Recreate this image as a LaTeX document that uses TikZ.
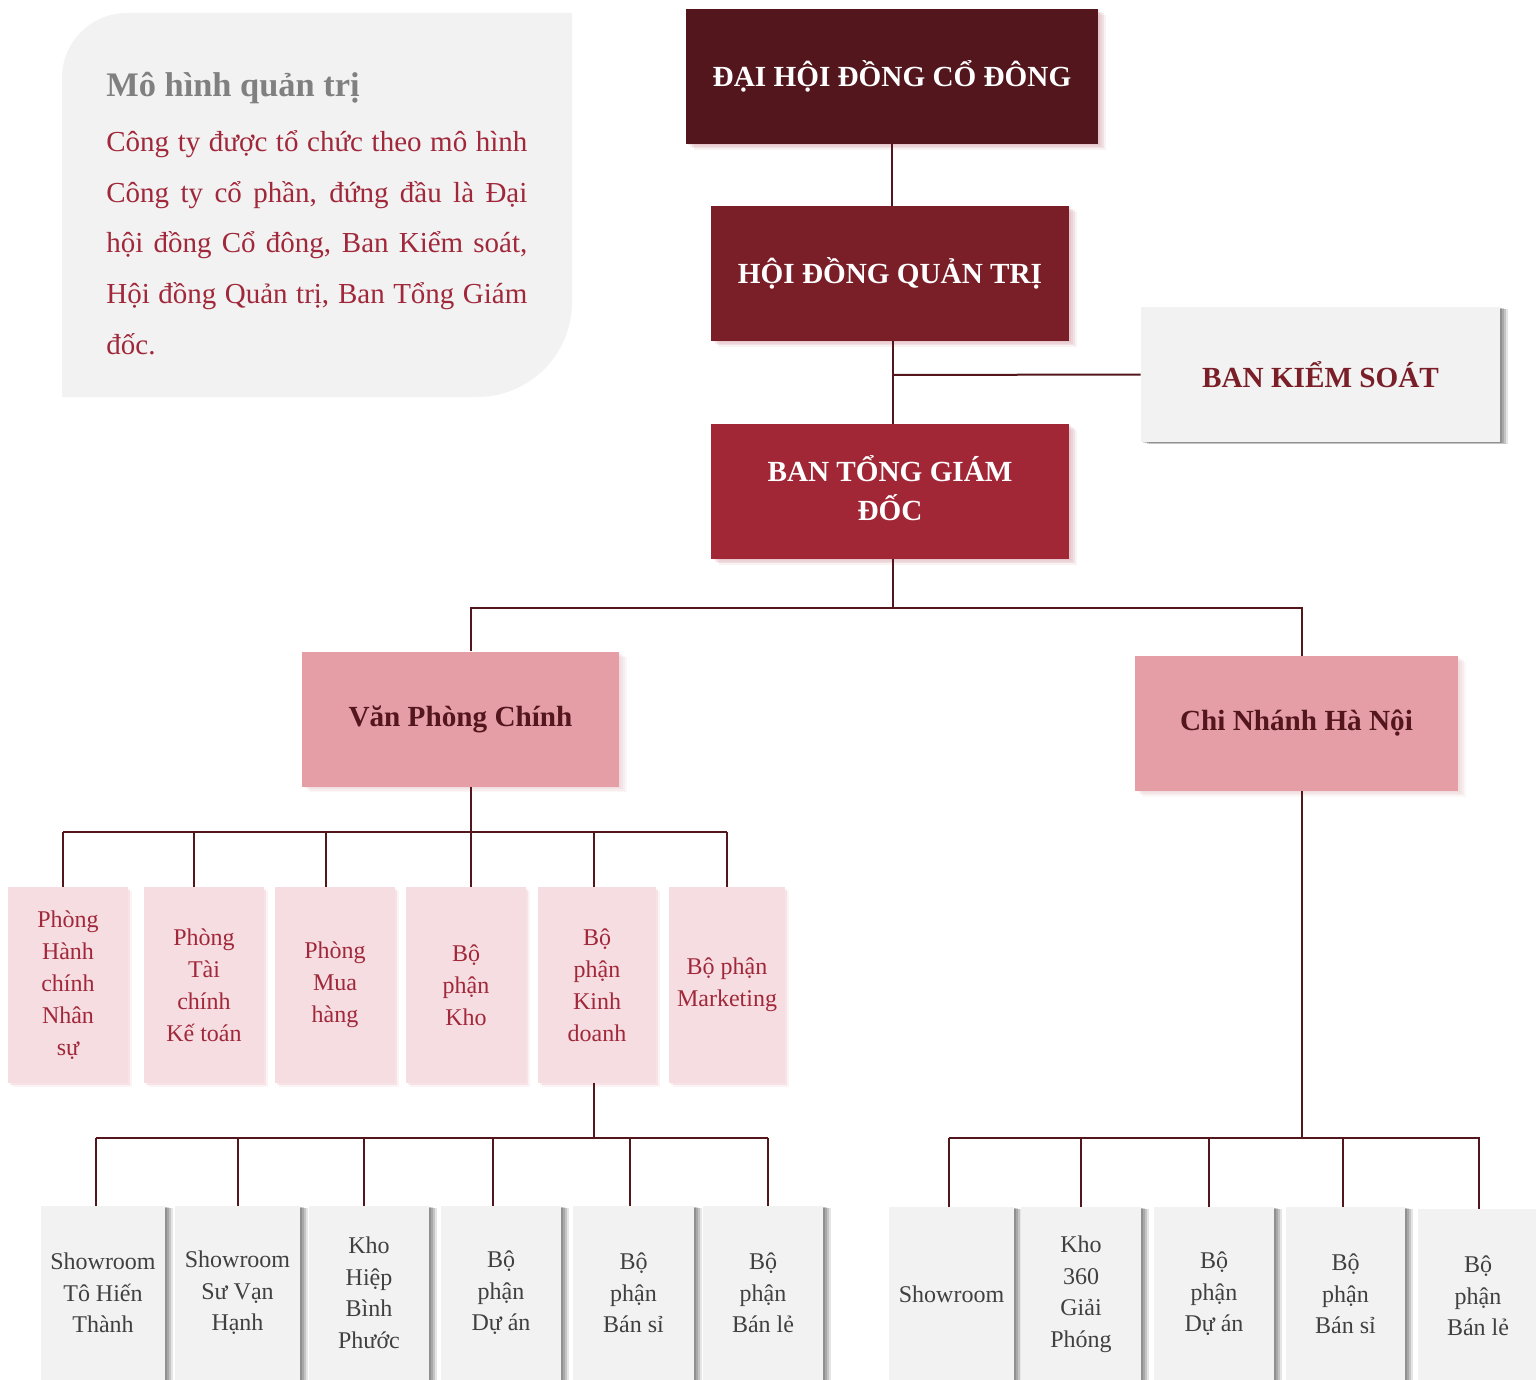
\documentclass[tikz,border=0pt]{standalone}
\usepackage{fontspec}
\setmainfont{Liberation Serif}
\usetikzlibrary{shadows}
\definecolor{cA}{HTML}{52161C}
\definecolor{cB}{HTML}{7A1E28}
\definecolor{cC}{HTML}{A12636}
\definecolor{pinkmid}{HTML}{E59DA6}
\definecolor{pinklt}{HTML}{F6DDE1}
\definecolor{grayf}{HTML}{F2F2F2}
\definecolor{txtred}{HTML}{A0283A}
\definecolor{txtgray}{HTML}{404040}
\definecolor{titlegray}{HTML}{808080}
\definecolor{shpink}{HTML}{C9808B}
\tikzset{
  softshadow/.style={
    drop shadow={shadow xshift=1pt, shadow yshift=-0.7pt, fill=#1, opacity=0.14},
    drop shadow={shadow xshift=2pt, shadow yshift=-1.4pt, fill=#1, opacity=0.14},
    drop shadow={shadow xshift=3pt, shadow yshift=-2.1pt, fill=#1, opacity=0.14},
    drop shadow={shadow xshift=4pt, shadow yshift=-2.8pt, fill=#1, opacity=0.10}},
  sidegray/.style={
    drop shadow={shadow xshift=1pt, shadow yshift=-0.3pt, fill=black, opacity=0.14},
    drop shadow={shadow xshift=2pt, shadow yshift=-0.6pt, fill=black, opacity=0.14},
    drop shadow={shadow xshift=3pt, shadow yshift=-0.9pt, fill=black, opacity=0.14},
    drop shadow={shadow xshift=4pt, shadow yshift=-1.2pt, fill=black, opacity=0.10}},
  basebox/.style={rectangle, inner sep=0pt, align=center},
  headfont/.style={font=\bfseries\fontsize{14.6}{19.5}\selectfont},
  topbox/.style={basebox, headfont, minimum width=#1, minimum height=67.5pt, text=white, softshadow=shpink},
  graybox/.style={basebox, headfont, fill=grayf, minimum width=#1, minimum height=67.5pt, text=cB, sidegray},
  midbox/.style={basebox, headfont, fill=pinkmid, minimum width=#1, minimum height=67.5pt, text=cA, softshadow=shpink!60},
  rowonebox/.style={basebox, fill=pinklt, minimum width=#1, minimum height=98pt, text=txtred,
    font=\fontsize{12}{16}\selectfont,
    drop shadow={shadow xshift=1pt, shadow yshift=-1pt, fill=pinkmid, opacity=0.18},
    drop shadow={shadow xshift=2pt, shadow yshift=-2pt, fill=pinkmid, opacity=0.12}},
  rowtwobox/.style={basebox, fill=grayf, minimum width=#1, minimum height=87pt, text=txtgray,
    font=\fontsize{12}{15.75}\selectfont, sidegray},
  conn/.style={draw=cA, line width=1pt},
  bodytxt/.style={inner sep=0pt, anchor=base west, text=txtred, font=\fontsize{14.5}{25}\selectfont},
}
\begin{document}
\begin{tikzpicture}[x=0.5pt,y=-0.5pt]
\useasboundingbox (0,0) rectangle (1536,1380);
\clip (0,0) rectangle (1536,1380);
\fill[white] (0,0) rectangle (1536,1380);

% info panel
\fill[grayf] (62,397) -- (62,78) .. controls (62,42) and (91,13) .. (127,13) -- (572,13)
  -- (572,302) .. controls (572,354.5) and (529.5,397) .. (477,397) -- cycle;
\node[inner sep=0pt, anchor=base west, text=titlegray, font=\bfseries\fontsize{17.2}{20}\selectfont] (title) at (106,97) {Mô hình quản trị};
\node[bodytxt] (l1) at (106,152) {\makebox[210.5pt][s]{Công ty được tổ chức theo mô hình}};
\node[bodytxt] (l2) at (106,202.5) {\makebox[210.5pt][s]{Công ty cổ phần, đứng đầu là Đại}};
\node[bodytxt] (l3) at (106,253) {\makebox[210.5pt][s]{hội đồng Cổ đông, Ban Kiểm soát,}};
\node[bodytxt] (l4) at (106,303.5) {\makebox[210.5pt][s]{Hội đồng Quản trị, Ban Tổng Giám}};
\node[bodytxt] (l5) at (106,354) {đốc.};

% top hierarchy
\node[topbox=206pt, fill=cA] (dhd) at (892,76.5) {ĐẠI HỘI ĐỒNG CỔ ĐÔNG};
\node[topbox=179pt, fill=cB] (hdqt) at (890,273.5) {HỘI ĐỒNG QUẢN TRỊ};
\node[topbox=179pt, fill=cC] (btgd) at (890,491.5) {BAN TỔNG GIÁM\\ĐỐC\rule[-4pt]{0pt}{1pt}};
\node[graybox=179.5pt] (bks) at (1320.5,374.5) {BAN KIỂM SOÁT};
\node[midbox=158.5pt] (vpc) at (460.5,719) {Văn Phòng Chính};
\node[midbox=161.5pt] (cnhn) at (1296.5,723.5) {Chi Nhánh Hà Nội};

% row 1
\node[rowonebox=60pt] (r1a) at (68,985) {Phòng\\Hành\\chính\\Nhân\\sự};
\node[rowonebox=60pt] (r1b) at (204,985) {Phòng\\Tài\\chính\\Kế toán};
\node[rowonebox=60pt] (r1c) at (335,985) {Phòng\\Mua\\hàng};
\node[rowonebox=60pt] (r1d) at (466,985) {Bộ\\phận\\Kho};
\node[rowonebox=59pt] (r1e) at (597,985) {Bộ\\phận\\Kinh\\doanh};
\node[rowonebox=58pt] (r1f) at (727,985) {Bộ phận\\Marketing};

% row 2 left
\node[rowtwobox=62pt] (r2a) at (103,1293) {Showroom\\Tô Hiến\\Thành};
\node[rowtwobox=62.5pt] (r2b) at (237.5,1293) {Showroom\\Sư Vạn\\Hạnh};
\node[rowtwobox=60pt] (r2c) at (369,1293) {Kho\\Hiệp\\Bình\\Phước};
\node[rowtwobox=60pt] (r2d) at (501,1293) {Bộ\\phận\\Dự án};
\node[rowtwobox=60.5pt] (r2e) at (633.5,1293) {Bộ\\phận\\Bán sỉ};
\node[rowtwobox=60pt] (r2f) at (763,1293) {Bộ\\phận\\Bán lẻ};

% row 2 right
\node[rowtwobox=62.5pt] (r3a) at (951.5,1294) {Showroom};
\node[rowtwobox=60pt] (r3b) at (1081,1294) {Kho\\360\\Giải\\Phóng};
\node[rowtwobox=60pt] (r3c) at (1214,1294) {Bộ\\phận\\Dự án};
\node[rowtwobox=59.5pt] (r3d) at (1345.5,1294) {Bộ\\phận\\Bán sỉ};
\node[rowtwobox=60pt] (r3e) at (1478,1296) {Bộ\\phận\\Bán lẻ};

% connectors
\draw[conn] (dhd.south) -- (dhd.south |- hdqt.north);
\coordinate (vh) at (893,375);
\draw[conn] (vh |- hdqt.south) -- (vh |- btgd.north);
\draw[conn] (vh) -- (bks.west);

\coordinate (v1) at (471,608);
\coordinate (v2) at (1302,608);
\draw[conn] (vh |- btgd.south) -- (vh |- v1);
\draw[conn] (v1 |- vpc.north) -- (v1) -- (v2) -- (v2 |- cnhn.north);

\coordinate (b1) at (471,832);
\draw[conn] (b1 |- vpc.south) -- (b1);
\draw[conn] (63,832) -- (727,832);
\foreach \x/\n in {63/r1a,194/r1b,326/r1c,471/r1d,594/r1e,727/r1f}
  \draw[conn] (\x,832) -- (\x,832 |- \n.north);

\coordinate (b2) at (594,1138);
\draw[conn] (b2 |- r1e.south) -- (b2);
\draw[conn] (96,1138) -- (768,1138);
\foreach \x/\n in {96/r2a,238/r2b,364/r2c,493/r2d,630/r2e,768/r2f}
  \draw[conn] (\x,1138) -- (\x,1138 |- \n.north);

\coordinate (b3) at (1302,1138);
\draw[conn] (b3 |- cnhn.south) -- (b3);
\draw[conn] (949,1138) -- (1480,1138);
\foreach \x/\n in {949/r3a,1081/r3b,1209/r3c,1343/r3d,1479/r3e}
  \draw[conn] (\x,1138) -- (\x,1138 |- \n.north);
\end{tikzpicture}
\end{document}
